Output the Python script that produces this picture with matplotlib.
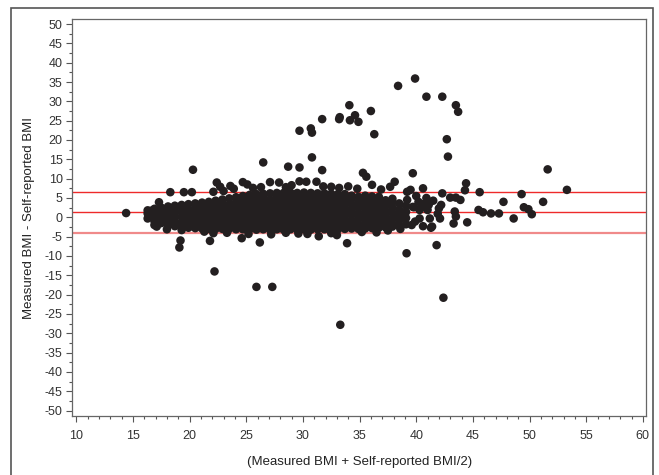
import matplotlib
matplotlib.use("Agg")
import matplotlib.pyplot as plt
from matplotlib.patches import Rectangle
from matplotlib.ticker import MultipleLocator

plt.rcParams["font.family"] = ["Liberation Sans", "DejaVu Sans"]
plt.rcParams["axes.unicode_minus"] = False

# limits of agreement (mean difference +/- 1.96 SD)
upper_loa = 6.5
mean_diff = 1.3
lower_loa = -4.1

# dense core of the cloud, read column by column (x: list of y)
left_cols = [16.3, 16.9, 17.5, 18.1, 18.7, 19.3, 19.9, 20.5, 21.1, 21.7, 22.3, 22.9, 23.5]
left_vals = [
    [-0.3, 1.0, 1.8],
    [-1.0, 0.3, 1.5, 2.2],
    [-1.5, -0.4, 0.7, 1.8, 2.5],
    [-2.0, -0.8, 0.5, 1.8, 2.8],
    [-2.3, -1.2, 0.0, 1.2, 2.4, 3.0],
    [-2.5, -1.3, 0.1, 1.4, 2.7, 3.2],
    [-2.7, -2.0, -0.7, 0.6, 1.9, 3.4],
    [-2.8, -1.5, -0.2, 1.1, 2.4, 3.6],
    [-2.9, -2.2, -0.9, 0.4, 1.7, 3.0, 3.8],
    [-3.0, -1.6, -0.2, 1.2, 2.6, 4.0],
    [-3.0, -2.3, -0.9, 0.5, 1.9, 3.3, 4.3],
    [-3.0, -1.6, -0.2, 1.2, 2.6, 3.9, 4.6],
    [-3.0, -2.3, -0.9, 0.5, 1.9, 3.3, 4.9],
]
mid_cols = [24.1, 24.7, 25.3, 25.9, 26.5, 27.1, 27.7, 28.3, 28.9, 29.5, 30.1, 30.7, 31.3]
mid_vals = [
    [-3.1, -1.7, -0.3, 1.1, 2.5, 3.9, 5.2],
    [-3.1, -2.4, -1.0, 0.4, 1.8, 3.2, 4.6, 5.5],
    [-3.1, -1.7, -0.3, 1.1, 2.5, 3.9, 5.3, 5.8],
    [-3.2, -2.4, -1.0, 0.4, 1.8, 3.2, 4.6, 6.0],
    [-3.1, -1.7, -0.3, 1.1, 2.5, 3.9, 5.3, 6.1],
    [-3.2, -2.4, -1.0, 0.4, 1.8, 3.2, 4.6, 6.2],
    [-3.1, -1.7, -0.3, 1.1, 2.5, 3.9, 5.3, 6.3],
    [-3.2, -2.4, -1.0, 0.4, 1.8, 3.2, 4.6, 6.0, 6.3],
    [-3.1, -1.7, -0.3, 1.1, 2.5, 3.9, 5.3, 6.4],
    [-3.2, -2.4, -1.0, 0.4, 1.8, 3.2, 4.6, 6.0, 6.3],
    [-3.1, -1.7, -0.3, 1.1, 2.5, 3.9, 5.3, 6.4],
    [-3.2, -2.4, -1.0, 0.4, 1.8, 3.2, 4.6, 6.0, 6.3],
    [-3.1, -1.7, -0.3, 1.1, 2.5, 3.9, 5.3, 6.2],
]
right_cols = [31.9, 32.5, 33.1, 33.7, 34.3, 34.9, 35.5, 36.1, 36.7, 37.3, 37.9, 38.5, 39.1]
right_vals = [
    [-3.1, -2.4, -1.0, 0.4, 1.8, 3.2, 4.6, 6.0, 6.2],
    [-3.0, -1.7, -0.3, 1.1, 2.5, 3.9, 5.3, 6.1],
    [-3.1, -2.4, -1.0, 0.4, 1.8, 3.2, 4.6, 6.0],
    [-3.0, -1.7, -0.3, 1.1, 2.5, 3.9, 5.3, 6.0],
    [-2.9, -2.2, -0.8, 0.6, 2.0, 3.4, 4.8, 5.6],
    [-3.0, -1.7, -0.3, 1.1, 2.5, 3.9, 5.3],
    [-2.9, -2.2, -0.8, 0.6, 2.0, 3.4, 4.8, 5.6],
    [-2.8, -1.4, 0.0, 1.4, 2.8, 4.2, 5.4],
    [-2.7, -2.0, -0.6, 0.8, 2.2, 3.6, 5.0, 5.3],
    [-2.6, -1.2, 0.2, 1.6, 3.0, 4.4],
    [-2.4, -1.7, -0.3, 1.1, 2.5, 3.9, 4.8],
    [-2.2, -0.8, 0.6, 2.0, 3.6],
    [-1.8, -0.2, 1.4, 3.0],
]

# points along the edges of the cloud
edge_x = [14.4, 16.6, 17.3, 18.3, 19.5, 20.2, 22.1, 22.4, 22.7, 23.0, 23.6, 23.9,
          24.7, 25.1, 25.6, 26.3, 27.1, 27.9, 28.5, 29.0, 29.7, 30.3, 31.2, 31.8,
          32.5, 33.2, 34.0, 34.8, 36.1, 36.9, 37.7, 38.1, 39.2, 39.5,
          16.9, 17.1, 18.0, 19.3, 21.3, 22.1, 23.3, 25.2, 27.2, 28.5, 29.6, 30.4,
          31.4, 32.5, 33.0, 35.2, 36.5, 37.5, 38.6]
edge_y = [1.1, 1.7, 3.9, 6.5, 6.5, 6.5, 6.6, 9.0, 7.9, 6.8, 8.1, 7.4,
          9.1, 8.5, 7.6, 7.8, 9.1, 9.0, 7.8, 8.3, 9.3, 9.2, 9.2, 8.0,
          7.9, 7.6, 8.0, 7.4, 8.4, 7.2, 7.9, 9.2, 6.6, 7.1,
          -2.0, -2.4, -3.1, -3.3, -3.7, -4.1, -4.0, -4.3, -4.4, -4.0, -4.2, -4.3,
          -4.9, -4.1, -4.6, -3.8, -3.9, -3.4, -3.0]

# sparse tail to the right
tail_x = [39.7, 39.9, 40.3, 40.6, 41.1, 41.2, 41.4, 40.6, 40.6, 40.6, 41.0, 41.3,
          42.2, 42.0, 41.9, 42.1, 42.3, 43.0, 43.5, 43.9, 43.4, 43.5, 43.3, 44.5,
          44.4, 44.3, 45.6, 45.5, 45.9, 46.6, 47.3, 47.7, 48.6, 49.3, 49.5, 49.9,
          50.2, 51.2, 53.3, 39.8, 40.3, 39.2, 40.0, 39.0, 39.6, 40.9, 41.5, 40.2]
tail_y = [2.7, -1.1, 1.9, 2.7, 3.2, -0.3, -2.4, -2.3, 7.5, 3.4, 1.9, -2.7,
          3.2, 2.3, 0.9, -0.3, 6.2, 5.1, 5.1, 4.5, 1.5, 0.2, -1.6, -1.3,
          8.8, 7.0, 6.5, 1.9, 1.3, 1.0, 1.0, 4.0, -0.3, 6.0, 2.6, 2.1,
          0.8, 4.0, 7.1, 2.6, -0.3, 4.5, 5.5, 0.5, -2.0, 5.0, 4.3, 4.0]

# large positive differences
high_x = [38.4, 39.9, 40.9, 42.3, 43.5, 43.7, 42.7, 42.8, 34.1, 36.0, 33.2, 33.25,
          34.15, 34.6, 34.9, 31.7, 36.3, 29.7, 30.7, 30.8, 30.8, 28.7, 29.7, 31.7,
          35.3, 35.6, 26.5, 20.3, 39.7, 51.6]
high_y = [34.0, 35.9, 31.2, 31.2, 29.0, 27.3, 20.2, 15.7, 29.0, 27.5, 25.4, 25.9,
          25.1, 26.4, 24.7, 25.4, 21.5, 22.4, 23.0, 21.9, 15.5, 13.1, 12.9, 12.2,
          11.5, 10.5, 14.2, 12.3, 11.4, 12.4]

# large negative differences
low_x = [19.2, 19.1, 21.8, 22.2, 24.6, 26.2, 25.9, 27.3, 33.9, 33.3, 39.15, 41.8, 42.4]
low_y = [-6.0, -7.8, -6.1, -14.0, -5.4, -6.5, -18.0, -18.0, -6.7, -27.8, -9.3, -7.2, -20.8]

xs, ys = [], []
for cols, vals in [(left_cols, left_vals), (mid_cols, mid_vals), (right_cols, right_vals)]:
    for cx, col in zip(cols, vals):
        xs += [cx] * len(col)
        ys += col
xs += edge_x + tail_x + high_x + low_x
ys += edge_y + tail_y + high_y + low_y

fig = plt.figure(figsize=(6.59, 4.75), dpi=100)
ax = fig.add_axes([0.1097, 0.1242, 0.8706, 0.8358])

ax.axhline(upper_loa, color="#ee2a2a", lw=1.0, zorder=1)
ax.axhline(mean_diff, color="#ee2a2a", lw=1.0, zorder=1)
ax.axhline(lower_loa, color="#f08a8a", lw=1.6, zorder=1)
ax.scatter(xs, ys, s=38, color="#231f20", edgecolors="none", zorder=3)

ax.set_xlim(9.65, 60.28)
ax.set_ylim(-51.4, 51.3)
ax.xaxis.set_major_locator(MultipleLocator(5))
ax.xaxis.set_minor_locator(MultipleLocator(1))
ax.yaxis.set_major_locator(MultipleLocator(5))
ax.yaxis.set_minor_locator(MultipleLocator(2.5))
ax.tick_params(which="major", length=4, width=0.8, color="#555555", labelsize=9,
               labelcolor="#333333", pad=3)
ax.tick_params(which="minor", length=2.5, width=0.8, color="#555555")
ax.tick_params(axis="x", which="major", pad=6)
for s in ax.spines.values():
    s.set_color("#666666")
    s.set_linewidth(0.9)

ax.set_xlabel("(Measured BMI + Self-reported BMI/2)", fontsize=9.5, color="#222222", labelpad=10)
ax.set_ylabel("Measured BMI - Self-reported BMI", fontsize=9.5, color="#222222", labelpad=7)

fig.patches.append(Rectangle((11 / 659, -0.05), 642 / 659, 1 - 8 / 475 + 0.05,
                             transform=fig.transFigure, fill=False,
                             edgecolor="#555555", lw=1.2))

fig.savefig("out.png", dpi=100)
